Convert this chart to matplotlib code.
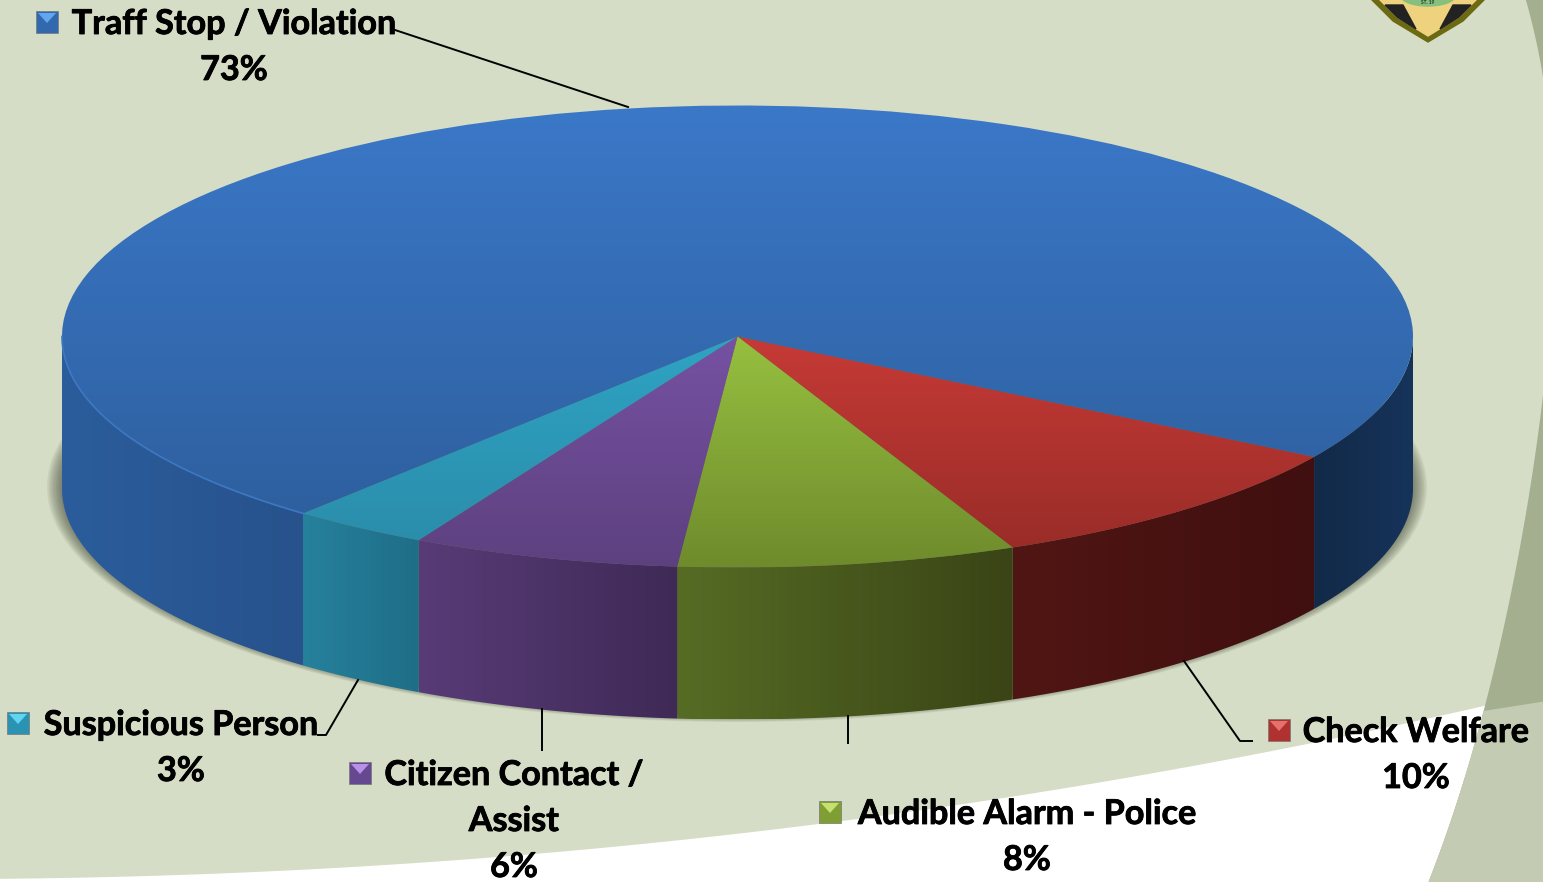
import numpy as np
import matplotlib
matplotlib.use('Agg')
import matplotlib.pyplot as plt
import matplotlib.patheffects as pe
from matplotlib.patches import Wedge, Polygon, Rectangle, Ellipse
from matplotlib.transforms import Affine2D

# slices, clockwise from the blue/red edge on the right
labels = ['Check Welfare', 'Audible Alarm - Police', 'Citizen Contact /\nAssist', 'Suspicious Person', 'Traff Stop / Violation']
shown = [10, 8, 6, 3, 73]
shares = [9.6, 8.1, 6.4, 3.3, 72.6]  # the slices are drawn a bit off the rounded labels
top_hi = ['#c63a36', '#96c040', '#7651a3', '#2fa3c4', '#3b78c8']
top_lo = ['#962b27', '#6f8b2c', '#5d417f', '#2a8ba8', '#2c5d9a']
wall_l = ['#501614', '#566c24', '#583b77', '#26819d', '#2b5d9c']
wall_r = ['#400f0f', '#3a4416', '#3f2a56', '#1f6e87', '#27528c']
key_body = ['#b03230', '#7f9f34', '#664890', '#2a93b4', '#3268ae']
key_hi = ['#e8706c', '#c4e070', '#b890e8', '#60d4f0', '#62a6ee']

W, H = 1543, 882
cx, cy, rx, ry, depth = 737.5, 336.5, 675.5, 231, 152
start = 31.4

fig = plt.figure(figsize=(W / 100, H / 100), dpi=100)
ax = fig.add_axes([0, 0, 1, 1])
ax.set_xlim(0, W)
ax.set_ylim(H, 0)
ax.axis('off')
plt.rcParams['font.family'] = ['Lato', 'DejaVu Sans']

# background
ax.add_patch(Rectangle((0, 0), W, H, color='#d5ddc6', zorder=0))
xs = np.array([0, 350, 700, 1150, 1484, 1543])
ys = np.array([880, 866, 841, 773, 707, 693])
edge_x = np.linspace(0, W, 80)
edge_y = np.polyval(np.polyfit(xs, ys, 3), edge_x)
ax.add_patch(Polygon(np.r_[np.c_[edge_x, edge_y], [[W, H], [0, H]]], color='white', zorder=0.5))

# dark swoosh down the right side
sw_y = np.array([0, 67, 388, 562, 705, 843, 882])
sw_x = np.array([1526, 1543, 1543, 1520, 1485, 1443, 1430])
yy = np.linspace(0, H, 120)
xx = np.polyval(np.polyfit(sw_y, sw_x, 4), yy)
ax.add_patch(Polygon(np.r_[np.c_[xx, yy], [[W + 80, H], [W + 80, 0]]], color='#a4af8f', zorder=1))
low = yy >= 705
ax.add_patch(Polygon(np.r_[np.c_[xx[low], yy[low]], [[W + 80, H], [W + 80, 690]]], color='#c3ccb3', zorder=1.1))

# badge
ax.add_patch(Polygon([[1370, -2], [1393, 21], [1428, 42], [1463, 21], [1486, -2]], color='#6b6a12', zorder=2))
ax.add_patch(Polygon([[1378, -2], [1397, 17], [1428, 36], [1459, 17], [1478, -2]], color='#eed27e', zorder=2.1))
ax.add_patch(Polygon([[1385, 5], [1403, 5], [1416, 29], [1397, 17]], color='#222222', zorder=2.2))
ax.add_patch(Polygon([[1471, 5], [1453, 5], [1440, 29], [1459, 17]], color='#222222', zorder=2.2))
ax.add_patch(Ellipse((1428, -4), 54, 20, color='#86c07c', zorder=2.3))
ax.text(1428, 2.5, 'ST. 19', ha='center', va='center', fontsize=3.5, fontweight='bold', color='#223322', zorder=2.4)

# shadow under the pie
for k in range(14):
    ax.add_patch(Ellipse((737, 487), 2 * (690 - k * 1.5), 2 * (235 - k * 0.7), color='#3c4032', alpha=0.075, lw=0, zorder=3))

ell = Affine2D().scale(rx, ry).translate(cx, cy) + ax.transData


def grad(c1, c2, clip, extent, horizontal=False):
    rgb = np.linspace(matplotlib.colors.to_rgb(c1), matplotlib.colors.to_rgb(c2), 128)
    img = rgb[np.newaxis, :, :] if horizontal else rgb[:, np.newaxis, :]
    im = ax.imshow(img, extent=extent, origin='upper', aspect='auto', zorder=4, interpolation='bilinear')
    im.set_clip_path(clip)
    return im


angle = start
bounds = []
for v in shares:
    bounds.append((angle, angle + v * 3.6))
    angle += v * 3.6

# walls first, only the front half of the pie shows one
for (a, b), c1, c2 in zip(bounds, wall_l, wall_r):
    parts = [(a, min(b, 180), c1, c2)]
    if b > 360:
        parts.append((360, b, '#122a48', '#16335a'))  # the part right of the red slice is in shade
    for lo, hi, col1, col2 in parts:
        t = np.radians(np.linspace(lo, hi, 80))
        px = cx + rx * np.cos(t)
        py = cy + ry * np.sin(t)
        wall = Polygon(np.r_[np.c_[px, py], np.c_[px, py + depth][::-1]], closed=True, fc='none', ec='none')
        ax.add_patch(wall)
        grad(col1, col2, wall, (px.min(), px.max(), cy + ry + depth, cy), horizontal=True)

for (a, b), c1, c2 in zip(bounds, top_hi, top_lo):
    w = Wedge((0, 0), 1, a, b, transform=ell, fc='none', ec='none')
    ax.add_patch(w)
    grad(c1, c2, w, (cx - rx, cx + rx, cy + ry, cy - ry) if b > 360 else (cx - rx, cx + rx, cy + ry, cy))

# light rim on the blue slice
t = np.radians(np.linspace(bounds[4][0], 180, 60))
ax.plot(cx + rx * np.cos(t), cy + ry * np.sin(t), color='#3f78c2', lw=1.2, zorder=5)

ax.set_xlim(0, W)
ax.set_ylim(H, 0)

# leader lines
lk = dict(color='black', lw=1.4, zorder=6)
ax.plot([395, 628], [30, 107], **lk)
ax.plot([318, 326, 358], [735, 735, 680], **lk)
ax.plot([542, 542], [709, 750], **lk)
ax.plot([848, 848], [716, 743], **lk)
ax.plot([1184, 1240, 1252], [661, 741, 741], **lk)

# labels: key position, text centre, first line y
placed = [(1279, 1416, 730), (830, 1027, 812), (360, 514, 773), (18, 181, 723), (47, 234, 22)]
stroke = [pe.withStroke(linewidth=0.6, foreground='black')]
for lab, val, (kx, tx, ty), body, hi in zip(labels, shown, placed, key_body, key_hi):
    s = 11
    ax.add_patch(Rectangle((kx - s, ty - s), 2 * s, 2 * s, fc=body, ec='#777777', lw=0.5, zorder=6))
    ax.add_patch(Polygon([[kx - s + 2, ty - s + 2], [kx + s - 2, ty - s + 2], [kx, ty + 1]], fc=hi, ec='none', zorder=6.1))
    y = ty + 2
    for line in lab.split('\n'):
        ax.text(tx, y, line, ha='center', va='center', fontsize=24.6, fontweight='bold', color='black', zorder=7, path_effects=stroke)
        y += 46
    ax.text(tx, y, '%d%%' % val, ha='center', va='center', fontsize=24.6, fontweight='bold', color='black', zorder=7, path_effects=stroke)

fig.savefig('out.png', dpi=100)
